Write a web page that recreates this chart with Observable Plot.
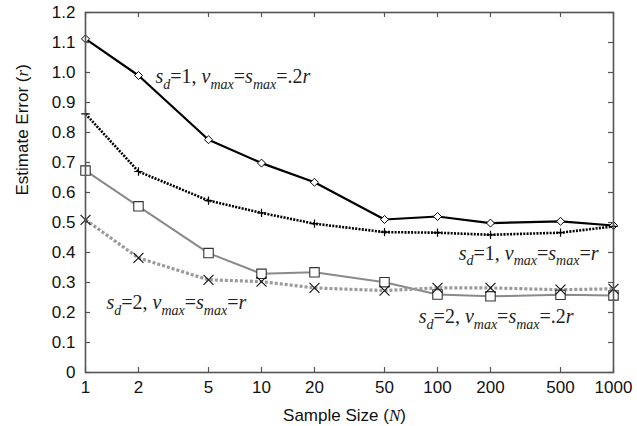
<!DOCTYPE html>
<html><head><meta charset="utf-8">
<script src="https://cdn.jsdelivr.net/npm/d3@7"></script>
<script src="https://cdn.jsdelivr.net/npm/@observablehq/plot@0.6"></script>
<style>body{margin:0;background:#fff}</style>
</head><body><div id="chart"></div>
<script>
// ---- data ----
const sampleSizes = [1, 2, 5, 10, 20, 50, 100, 200, 500, 1000];
const sd1Small = [1.112, 0.99, 0.776, 0.698, 0.634, 0.51, 0.52, 0.498, 0.504, 0.49];   // s_d=1, .2r
const sd1Full  = [0.862, 0.67, 0.573, 0.532, 0.496, 0.468, 0.466, 0.459, 0.466, 0.487]; // s_d=1, r
const sd2Small = [0.673, 0.554, 0.398, 0.329, 0.334, 0.301, 0.26, 0.254, 0.259, 0.257]; // s_d=2, .2r
const sd2Full  = [0.509, 0.382, 0.309, 0.303, 0.282, 0.273, 0.282, 0.282, 0.276, 0.279]; // s_d=2, r
const xTicks = [1, 2, 5, 10, 20, 50, 100, 200, 500, 1000];
const xTickLabels = ["1", "2", "5", "10", "20", "50", "100", "200", "500", "1000"];
const yTicks = [0, 0.1, 0.2, 0.3, 0.4, 0.5, 0.6, 0.7, 0.8, 0.9, 1.0, 1.1, 1.2];
const annoText = [
  "*s*_{d}=1, *v*_{max}=*s*_{max}=.2*r*",
  "*s*_{d}=1, *v*_{max}=*s*_{max}=*r*",
  "*s*_{d}=2, *v*_{max}=*s*_{max}=*r*",
  "*s*_{d}=2, *v*_{max}=*s*_{max}=.2*r*"
];
const annoX = [2.5, 132, 1.316, 78.3];
const annoY = [0.985, 0.398, 0.233, 0.186];
const xTitle = "Sample Size (*N*)";
const yTitle = "Estimate Error (*r*)";

// ---- layout ----
const W = 637, H = 426, mL = 85, mR = 24, mT = 12, mB = 54;
const plotW = W - mL - mR, plotH = H - mT - mB;
const tickLen = 5;
const axisColor = "#555";

const series = [
  {values: sd1Small, stroke: "#000", width: 2.2, dash: null, symbol: "diamond2", r: 3.6, mstroke: "#000", fill: "#fff", sw: 1},
  {values: sd1Full, stroke: "#000", width: 2.6, dash: "2,1.3", symbol: "plus", r: 2.8, mstroke: "#000", fill: "none", sw: 1.2},
  {values: sd2Small, stroke: "#8a8a8a", width: 2, dash: null, symbol: "square2", r: 6, mstroke: "#333", fill: "#fff", sw: 1.1},
  {values: sd2Full, stroke: "#9a9a9a", width: 3.2, dash: "3,2", symbol: "times", r: 4.6, mstroke: "#111", fill: "none", sw: 1.1}
];
const rowsOf = s => sampleSizes.map((n, i) => ({n, v: s.values[i]}));
const annos = annoText.map((t, i) => ({t, x: annoX[i], y: annoY[i]}));
const xLabelRows = xTicks.map((x, i) => ({x, label: xTickLabels[i]}));

const marks = [];
for (const s of series) {
  marks.push(Plot.line(rowsOf(s), {x: "n", y: "v", stroke: s.stroke, strokeWidth: s.width, strokeDasharray: s.dash, strokeLinecap: "butt", strokeLinejoin: "miter"}));
}
for (const s of series) {
  marks.push(Plot.dot(rowsOf(s), {x: "n", y: "v", symbol: () => s.symbol, r: s.r, stroke: s.mstroke, fill: s.fill, strokeWidth: s.sw}));
}
// inward ticks on all sides
marks.push(
  Plot.tickX(xTicks, {x: d => d, insetTop: plotH - tickLen, stroke: axisColor, strokeWidth: 1.2}),
  Plot.tickX(xTicks, {x: d => d, insetBottom: plotH - tickLen, stroke: axisColor, strokeWidth: 1.2}),
  Plot.tickY(yTicks, {y: d => d, insetRight: plotW - tickLen, stroke: axisColor, strokeWidth: 1.2}),
  Plot.tickY(yTicks, {y: d => d, insetLeft: plotW - tickLen, stroke: axisColor, strokeWidth: 1.2}),
  Plot.frame({stroke: axisColor, strokeWidth: 1.6}),
  Plot.text(xLabelRows, {x: "x", text: "label", frameAnchor: "bottom", dy: 8, lineAnchor: "top", fontSize: 17, fill: "#111"}),
  Plot.axisY({ticks: yTicks, tickFormat: d => d === 0 ? "0" : d.toFixed(1), tickSize: 0, tickPadding: 10, fontSize: 17, label: null, fill: "#111"}),
  Plot.text(annos, {x: "x", y: "y", text: "t", textAnchor: "start", lineAnchor: "middle", fontFamily: "Liberation Serif", fontSize: 20, fill: "#222"}),
  Plot.text([xTitle], {text: d => d, frameAnchor: "bottom", dy: 43, dx: -5, lineAnchor: "middle", fontSize: 17, fill: "#111"}),
  Plot.text([yTitle], {text: d => d, frameAnchor: "left", dx: -63, dy: 3, rotate: -90, lineAnchor: "middle", fontSize: 17, fill: "#111"})
);

const chart = Plot.plot({
  width: W, height: H,
  marginLeft: mL, marginRight: mR, marginTop: mT, marginBottom: mB,
  style: {fontFamily: "Liberation Sans, Arial, sans-serif", fontSize: "17px", background: "#fff", color: "#111"},
  x: {type: "log", domain: [1, 1000], axis: null},
  y: {domain: [0, 1.2]},
  marks
});
document.getElementById("chart").appendChild(chart);

// ---- rich text: *italic* and _{italic subscript} ----
function richify(el, baseSize, italicFamily) {
  const ns = "http://www.w3.org/2000/svg";
  const markup = el.textContent;
  while (el.firstChild) el.removeChild(el.firstChild);
  const re = /\*([^*]+)\*|_\{([^}]+)\}|([^*_]+)/g;
  const sub = baseSize * 0.28;
  let m, shifted = false;
  while ((m = re.exec(markup))) {
    const t = document.createElementNS(ns, "tspan");
    if (m[2]) {
      t.textContent = m[2];
      t.setAttribute("font-style", "italic");
      t.setAttribute("font-family", italicFamily);
      t.setAttribute("font-size", baseSize * 0.7);
      t.setAttribute("dy", sub);
      shifted = true;
    } else {
      if (m[1]) {
        t.textContent = m[1];
        t.setAttribute("font-style", "italic");
        t.setAttribute("font-family", italicFamily);
      } else {
        t.textContent = m[3];
      }
      if (shifted) { t.setAttribute("dy", -sub); shifted = false; }
    }
    el.appendChild(t);
  }
}
chart.querySelectorAll("text").forEach(el => {
  const s = el.textContent;
  if (s.includes("_{")) richify(el, 20, "Liberation Serif");
  else if (s.includes("*")) richify(el, 17, "Liberation Serif");
});
</script>
</body></html>
